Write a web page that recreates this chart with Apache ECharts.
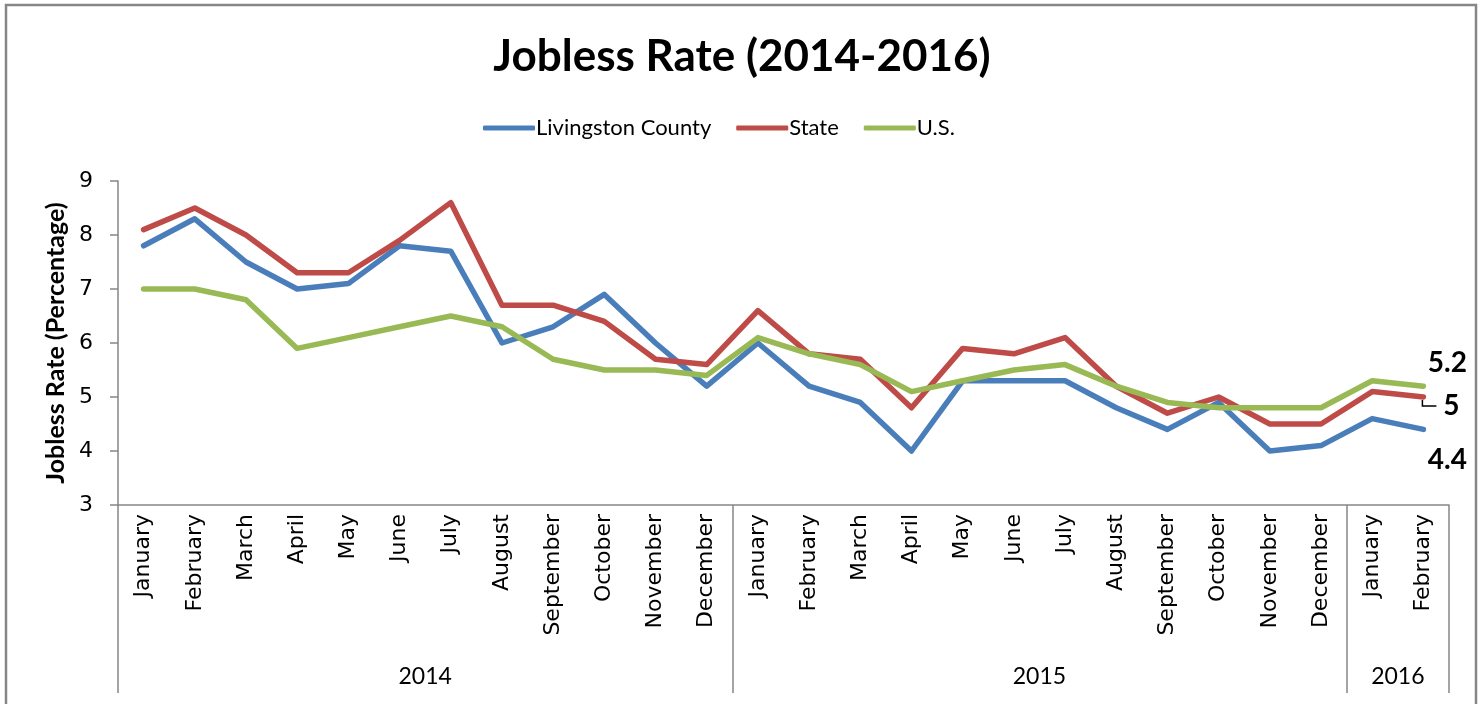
<!DOCTYPE html>
<html lang="en">
<head>
	<meta charset="UTF-8">
	<title>Jobless Rate (2014-2016)</title>
	<script src="https://cdn.jsdelivr.net/npm/echarts@6/dist/echarts.min.js"></script>
	<style>
		body { margin: 0; padding: 0; background: #fff; }
		#main { width: 1484px; height: 704px; }
	</style>
</head>
<body>
	<div id="main"></div>
	<script type="text/javascript">
		// month labels (Jan 2014 - Feb 2016)
		var months = ['January', 'February', 'March', 'April', 'May', 'June', 'July', 'August',
			'September', 'October', 'November', 'December',
			'January', 'February', 'March', 'April', 'May', 'June', 'July', 'August',
			'September', 'October', 'November', 'December',
			'January', 'February'];
		// year groups and how many months each covers
		var years = ['2014', '2015', '2016'];
		var yearMonths = [12, 12, 2];

		var livingston = [7.8, 8.3, 7.5, 7.0, 7.1, 7.8, 7.7, 6.0, 6.3, 6.9, 6.0, 5.2,
			6.0, 5.2, 4.9, 4.0, 5.3, 5.3, 5.3, 4.8, 4.4, 4.9, 4.0, 4.1, 4.6, 4.4];
		var state = [8.1, 8.5, 8.0, 7.3, 7.3, 7.9, 8.6, 6.7, 6.7, 6.4, 5.7, 5.6,
			6.6, 5.8, 5.7, 4.8, 5.9, 5.8, 6.1, 5.2, 4.7, 5.0, 4.5, 4.5, 5.1, 5.0];
		var us = [7.0, 7.0, 6.8, 5.9, 6.1, 6.3, 6.5, 6.3, 5.7, 5.5, 5.5, 5.4,
			6.1, 5.8, 5.6, 5.1, 5.3, 5.5, 5.6, 5.2, 4.9, 4.8, 4.8, 4.8, 5.3, 5.2];

		// year boundaries and centres on a 0..n scale
		var bounds = [0];
		var centres = [];
		yearMonths.forEach(function (n) {
			var start = bounds[bounds.length - 1];
			centres.push(start + n / 2);
			bounds.push(start + n);
		});

		var axisGray = '#868686';
		var chart = echarts.init(document.getElementById('main'));

		function endLabel(offset) {
			return {
				show: true,
				formatter: '{c}',
				fontFamily: 'Lato',
				fontWeight: 'bold',
				fontSize: 28,
				color: '#000',
				align: 'center',
				verticalAlign: 'middle',
				distance: 0,
				offset: offset
			};
		}

		chart.setOption({
			animation: false,
			title: {
				text: 'Jobless Rate (2014-2016)',
				left: 'center',
				top: 30,
				textStyle: {
					fontFamily: 'Lato',
					fontWeight: 'bold',
					fontSize: 44,
					color: '#000'
				}
			},
			legend: {
				top: 112,
				left: 478,
				icon: 'roundRect',
				itemWidth: 52,
				itemHeight: 5,
				itemGap: 25,
				textStyle: {
					fontFamily: 'Lato',
					fontSize: 22,
					color: '#000',
					padding: [0, 0, 0, -4]
				}
			},
			grid: {
				left: 118,
				right: 35,
				top: 181,
				bottom: 199
			},
			xAxis: [{
				type: 'category',
				data: months,
				boundaryGap: true,
				axisLine: { lineStyle: { color: axisGray, width: 1.5 } },
				axisTick: { show: false },
				axisLabel: {
					rotate: 90,
					margin: 9,
					interval: 0,
					fontFamily: 'DejaVu Sans',
					fontSize: 22,
					color: '#000'
				},
				splitLine: { show: false }
			}, {
				type: 'value',
				position: 'bottom',
				min: 0,
				max: bounds[bounds.length - 1],
				axisLine: { show: false },
				axisTick: {
					show: true,
					customValues: bounds,
					length: 188,
					lineStyle: { color: axisGray, width: 1.5 }
				},
				axisLabel: {
					customValues: centres,
					margin: 160,
					fontFamily: 'Lato',
					fontSize: 23,
					color: '#000',
					formatter: function (v) {
						return years[centres.indexOf(v)];
					}
				},
				splitLine: { show: false }
			}],
			yAxis: {
				type: 'value',
				min: 3,
				max: 9,
				interval: 1,
				name: 'Jobless Rate (Percentage)',
				nameLocation: 'middle',
				nameGap: 50,
				nameTextStyle: {
					fontFamily: 'Lato',
					fontWeight: 'bold',
					fontSize: 25,
					color: '#000'
				},
				axisLine: { show: true, lineStyle: { color: axisGray, width: 1.5 } },
				axisTick: { show: true, length: 8, lineStyle: { color: axisGray, width: 1.5 } },
				axisLabel: {
					margin: 25,
					fontFamily: 'DejaVu Sans',
					fontSize: 22,
					color: '#000'
				},
				splitLine: { show: false }
			},
			series: [{
				name: 'Livingston County',
				type: 'line',
				data: livingston,
				showSymbol: false,
				color: '#4A7EBB',
				lineStyle: { width: 5.5, color: '#4A7EBB', cap: 'round', join: 'round' },
				endLabel: endLabel([24, 31])
			}, {
				name: 'State',
				type: 'line',
				data: state,
				showSymbol: false,
				color: '#BE4B48',
				lineStyle: { width: 5.5, color: '#BE4B48', cap: 'round', join: 'round' },
				endLabel: endLabel([28, 9])
			}, {
				name: 'U.S.',
				type: 'line',
				data: us,
				showSymbol: false,
				color: '#98B954',
				lineStyle: { width: 5.5, color: '#98B954', cap: 'round', join: 'round' },
				endLabel: endLabel([24, -23])
			}]
		});

		// chart border and the small leader line of the State label
		var last = state.length - 1;
		var pt = chart.convertToPixel({ seriesIndex: 1 }, [last, state[last]]);
		chart.setOption({
			graphic: [{
				type: 'rect',
				shape: { x: 6, y: 5, width: 1470, height: 720 },
				style: { fill: 'none', stroke: axisGray, lineWidth: 2.5 },
				silent: true
			}, {
				type: 'polyline',
				z: 100,
				shape: { points: [[pt[0] - 1, pt[1] + 3], [pt[0] - 1, pt[1] + 9], [pt[0] + 13, pt[1] + 9]] },
				style: { fill: 'none', stroke: '#000', lineWidth: 1.5 },
				silent: true
			}]
		});
	</script>
</body>
</html>
